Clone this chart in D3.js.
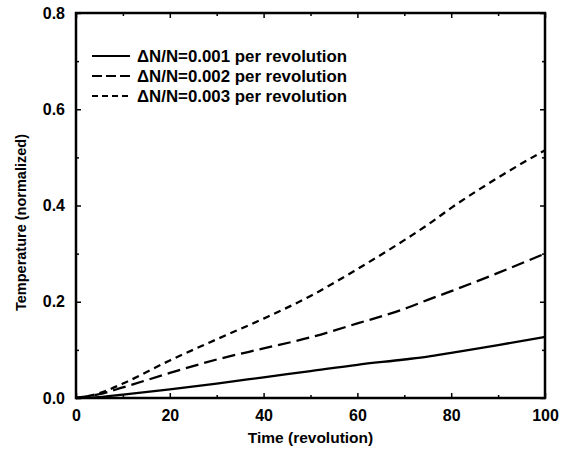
<!DOCTYPE html>
<html>
<head>
<meta charset="utf-8">
<script src="https://cdn.jsdelivr.net/npm/d3@7"></script>
<style>
  body { margin: 0; background: #fff; }
  text { font-family: "Liberation Sans", Arial, sans-serif; fill: #000; }
</style>
</head>
<body>
<div id="chart"></div>
<script>
const width = 568, height = 452;

// data //////////////////////////////////////////////
const time       = [0, 5, 10, 20, 30, 40, 50, 60, 70, 75, 80, 90, 100];
const rate_001   = [0, 0.002, 0.007, 0.018, 0.030, 0.043, 0.056, 0.069, 0.080, 0.086, 0.094, 0.110, 0.127];
const rate_002   = [0, 0.008, 0.022, 0.052, 0.080, 0.103, 0.126, 0.155, 0.185, 0.204, 0.222, 0.260, 0.300];
const rate_003   = [0, 0.010, 0.030, 0.078, 0.122, 0.165, 0.212, 0.268, 0.328, 0.360, 0.395, 0.458, 0.515];
const series_labels = ['\u0394N/N=0.001 per revolution', '\u0394N/N=0.002 per revolution', '\u0394N/N=0.003 per revolution'];
const xTicks = [0, 20, 40, 60, 80, 100];
const yTicks = [0.0, 0.2, 0.4, 0.6, 0.8];

const dashes = [null, '13,6', '7,5'];
const legendDashes = [null, '10,4', '6,4'];

// scales /////////////////////////////////////////////////////////////////
const x = d3.scaleLinear().domain([0, 100]).range([76, 545]);
const y = d3.scaleLinear().domain([0, 0.8]).range([398, 13]);

const svg = d3.select('#chart').append('svg')
  .attr('width', width).attr('height', height)
  .attr('viewBox', [0, 0, width, height]);

// axes: ticks inward, mirrored on top and right ///////////////////////////
const minorX = d3.range(10, 100, 20);
const minorY = d3.range(0.1, 0.8, 0.2);

svg.append('g').attr('transform', `translate(0,${y(0)})`)
  .call(d3.axisBottom(x).tickValues(xTicks).tickSize(-5).tickPadding(9).tickFormat(d3.format('d')))
  .call(g => g.selectAll('.tick text').attr('font-size', 16).attr('font-weight', 'bold').attr('dy', '0.9em'));
svg.append('g').attr('transform', `translate(0,${y(0)})`)
  .call(d3.axisBottom(x).tickValues(minorX).tickSize(-3).tickFormat(''));
svg.append('g').attr('transform', `translate(0,${y(0.8)})`)
  .call(d3.axisTop(x).tickValues(xTicks).tickSize(-5).tickFormat(''));
svg.append('g').attr('transform', `translate(0,${y(0.8)})`)
  .call(d3.axisTop(x).tickValues(minorX).tickSize(-3).tickFormat(''));

svg.append('g').attr('transform', `translate(${x(0)},0)`)
  .call(d3.axisLeft(y).tickValues(yTicks).tickSize(-5).tickPadding(11).tickFormat(d3.format('.1f')))
  .call(g => g.selectAll('.tick text').attr('font-size', 16).attr('font-weight', 'bold'));
svg.append('g').attr('transform', `translate(${x(0)},0)`)
  .call(d3.axisLeft(y).tickValues(minorY).tickSize(-3).tickFormat(''));
svg.append('g').attr('transform', `translate(${x(100)},0)`)
  .call(d3.axisRight(y).tickValues(yTicks).tickSize(-5).tickFormat(''));
svg.append('g').attr('transform', `translate(${x(100)},0)`)
  .call(d3.axisRight(y).tickValues(minorY).tickSize(-3).tickFormat(''));

svg.selectAll('.domain').remove();
svg.selectAll('.tick line').attr('stroke', '#000').attr('stroke-width', 1.5);

// frame
svg.append('rect')
  .attr('x', x(0)).attr('y', y(0.8))
  .attr('width', x(100) - x(0)).attr('height', y(0) - y(0.8))
  .attr('fill', 'none').attr('stroke', '#000').attr('stroke-width', 2.5);

// lines //////////////////////////////////////////////////////////////////
const lineGenerator = d3.line()
  .x(d => x(d[0]))
  .y(d => y(d[1]))
  .curve(d3.curveMonotoneX);

const seriesData = [rate_001, rate_002, rate_003].map(vals => time.map((t, i) => [t, vals[i]]));

svg.append('g').attr('fill', 'none').attr('stroke', '#000').attr('stroke-width', 2.3)
  .selectAll('path')
  .data(seriesData)
  .join('path')
  .attr('d', d => lineGenerator(d))
  .attr('stroke-dasharray', (d, i) => dashes[i]);

// legend /////////////////////////////////////////////////////////////////
const legend = svg.append('g');
const rowY = [56, 76, 96];
series_labels.forEach((label, i) => {
  legend.append('line')
    .attr('x1', 92).attr('x2', 130)
    .attr('y1', rowY[i]).attr('y2', rowY[i])
    .attr('stroke', '#000').attr('stroke-width', 2.2)
    .attr('stroke-dasharray', legendDashes[i]);
  legend.append('text')
    .attr('x', 137).attr('y', rowY[i]).attr('dy', '0.35em')
    .attr('font-size', 16.5).attr('font-weight', 'bold')
    .attr('textLength', 210).attr('lengthAdjust', 'spacingAndGlyphs')
    .text(label);
});

// axis titles ////////////////////////////////////////////////////////////
svg.append('text')
  .attr('x', (x(0) + x(100)) / 2).attr('y', 443)
  .attr('text-anchor', 'middle')
  .attr('font-size', 15.5).attr('font-weight', 'bold')
  .text('Time (revolution)');

svg.append('text')
  .attr('transform', `translate(26,${(y(0) + y(0.8)) / 2 + 17}) rotate(-90)`)
  .attr('text-anchor', 'middle')
  .attr('font-size', 14.5).attr('font-weight', 'bold')
  .text('Temperature (normalized)');
</script>
</body>
</html>
